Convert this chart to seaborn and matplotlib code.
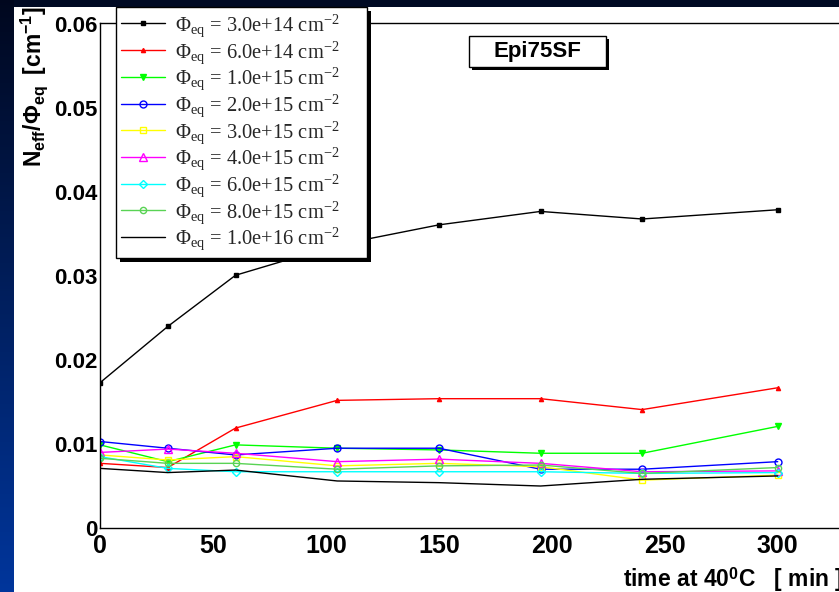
import numpy as np
import pandas as pd
import matplotlib
matplotlib.use("Agg")
import matplotlib.pyplot as plt
import seaborn as sns
from matplotlib.patches import Rectangle
from matplotlib.ticker import MultipleLocator, FixedLocator, FixedFormatter

# ---------------- data ----------------
times = [0, 30, 60, 105, 150, 195, 240, 300]
fluence_labels = ["3.0e+14", "6.0e+14", "1.0e+15", "2.0e+15", "3.0e+15",
                  "4.0e+15", "6.0e+15", "8.0e+15", "1.0e+16"]
neff_3e14 = [0.0173, 0.0240, 0.0301, 0.0337, 0.0361, 0.0377, 0.0368, 0.0379]
neff_6e14 = [0.0077, 0.0072, 0.0119, 0.0152, 0.0154, 0.0154, 0.0141, 0.0167]
neff_1e15 = [0.0099, 0.0079, 0.0099, 0.0095, 0.0093, 0.0089, 0.0089, 0.0121]
neff_2e15 = [0.0103, 0.0095, 0.0087, 0.0095, 0.0095, 0.0070, 0.0070, 0.0079]
neff_3e15 = [0.0087, 0.0081, 0.0085, 0.0074, 0.0077, 0.0073, 0.0057, 0.0063]
neff_4e15 = [0.0090, 0.0094, 0.0089, 0.0079, 0.0082, 0.0077, 0.0067, 0.0068]
neff_6e15 = [0.0085, 0.0071, 0.0067, 0.0067, 0.0067, 0.0067, 0.0065, 0.0066]
neff_8e15 = [0.0083, 0.0077, 0.0077, 0.0070, 0.0074, 0.0075, 0.0065, 0.0072]
neff_1e16 = [0.0071, 0.0066, 0.0069, 0.0056, 0.0054, 0.0050, 0.0058, 0.0062]
series = [neff_3e14, neff_6e14, neff_1e15, neff_2e15, neff_3e15,
          neff_4e15, neff_6e15, neff_8e15, neff_1e16]

y_ticks = [0, 0.01, 0.02, 0.03, 0.04, 0.05, 0.06]
y_ticklabels = ["0", "0.01", "0.02", "0.03", "0.04", "0.05", "0.06"]
x_ticks = [0, 50, 100, 150, 200, 250, 300]
x_ticklabels = ["0", "50", "100", "150", "200", "250", "300"]

# ---------------- styles ----------------
colors = ["#000000", "#ff0000", "#00ff00", "#0000ff", "#ffff00",
          "#ff00ff", "#00ffff", "#59d354", "#000000"]
markers = ["s", "^", "v", "o", "s", "^", "D", "o", None]
filled = [True, True, True, False, False, False, False, False, False]
msizes = [3.0, 3.0, 4.5, 5.0, 4.5, 5.5, 4.0, 4.5, 0]

sns.set_theme(style="white")
plt.rcParams["font.family"] = ["Liberation Sans", "DejaVu Sans"]
plt.rcParams["mathtext.fontset"] = "custom"
plt.rcParams["mathtext.rm"] = "Liberation Serif"
plt.rcParams["mathtext.it"] = "Liberation Serif:italic"
plt.rcParams["mathtext.bf"] = "Liberation Sans:bold"

W, H = 839, 592
fig = plt.figure(figsize=(W / 100, H / 100), dpi=100)
fig.patch.set_facecolor("white")


def fx(px):
    return px / W


def fy(py):
    return 1 - py / H


# slide background strips (top and left)
fig.add_artist(Rectangle((0, fy(7)), 1, 7 / H, transform=fig.transFigure,
                         facecolor="#000a24", edgecolor="none", zorder=-5))
bg = fig.add_axes([0, 0, fx(14), 1])
grad = np.linspace(0, 1, 256).reshape(-1, 1)
top_c = np.array([0.0, 0.03, 0.12])
bot_c = np.array([0.0, 0.21, 0.61])
img = (top_c[None, None, :] * (1 - grad[:, :, None]) + bot_c[None, None, :] * grad[:, :, None])
bg.imshow(img, aspect="auto", extent=[0, 1, 0, 1], origin="upper")
bg.set_axis_off()

x_max = 335
px_per_unit = 2.259
ax = fig.add_axes([fx(100), fy(528), x_max * px_per_unit / W, (528 - 22.5) / H])
ax.set_facecolor("white")

for vals, lab, c, m, f, ms in zip(series, fluence_labels, colors, markers, filled, msizes):
    df = pd.DataFrame({"time": times, "neff": vals})
    label = "Φ$_{\\mathrm{eq}}$ = " + lab + " cm$^{-2}$"
    kw = dict(color=c, linewidth=1.0, label=label)
    if m is not None:
        kw.update(marker=m, markersize=ms, markeredgecolor=c,
                  markerfacecolor=(c if f else "none"), markeredgewidth=1.0)
    sns.lineplot(data=df, x="time", y="neff", ax=ax, legend=False, **kw)

ax.set_xlim(0, x_max)
ax.set_ylim(0, 0.0602)
ax.set_xlabel("")
ax.set_ylabel("")

ax.xaxis.set_major_locator(FixedLocator(x_ticks))
ax.xaxis.set_major_formatter(FixedFormatter(x_ticklabels))
ax.xaxis.set_minor_locator(MultipleLocator(10))
ax.yaxis.set_major_locator(FixedLocator(y_ticks))
ax.yaxis.set_major_formatter(FixedFormatter(y_ticklabels))
ax.yaxis.set_minor_locator(MultipleLocator(0.002))

ax.tick_params(axis="x", which="major", direction="in", length=10.8, width=1,
               color="black", pad=4, labelsize=18, labelcolor="black")
ax.tick_params(axis="x", which="minor", direction="in", length=5.4, width=1, color="black")
ax.tick_params(axis="y", which="major", direction="in", length=17, width=1,
               color="black", pad=2, labelsize=16, labelcolor="black")
ax.tick_params(axis="y", which="minor", direction="in", length=8.6, width=1, color="black")
for t in ax.get_xticklabels() + ax.get_yticklabels():
    t.set_fontweight("bold")

for s in ["left", "bottom", "top", "right"]:
    ax.spines[s].set_color("black")
    ax.spines[s].set_linewidth(1.0)

# axis titles
fig.text(fx(34), fy(6), r"$\mathbf{N_{eff}/\Phi_{eq}\ \ [cm^{-1}]}$", rotation=90,
         ha="center", va="top", fontsize=16.5, color="black")
fig.text(fx(623), fy(580), r"time at 40$^{\mathbf{0}}$C   [ min ]", ha="left", va="center",
         fontsize=16.5, fontweight="bold", color="black")

# legend
leg = ax.legend(loc="upper left",
                bbox_to_anchor=(fx(116), fy(262), (367 - 116) / W, (262 - 7) / H),
                bbox_transform=fig.transFigure, mode="expand",
                borderaxespad=0, frameon=True, fancybox=False, framealpha=1,
                edgecolor="black", prop={"family": "Liberation Serif", "size": 14.8},
                handlelength=2.15, handletextpad=0.45, labelspacing=0.0, borderpad=0.25)
leg.get_frame().set_linewidth(1.0)
leg.set_zorder(10)

# title box
fig.add_artist(Rectangle((fx(472), fy(70)), (606 - 469) / W, (67 - 36) / H, transform=fig.transFigure,
                         facecolor="black", edgecolor="none", zorder=20))
fig.add_artist(Rectangle((fx(469), fy(67)), (606 - 469) / W, (67 - 36) / H, transform=fig.transFigure,
                         facecolor="white", edgecolor="black", linewidth=1.0, zorder=21))
fig.text(fx(537.5), fy(52), "Epi75SF", ha="center", va="center", fontsize=16,
         fontweight="bold", color="black", zorder=22)

# legend shadow (drawn inside the axes, below the legend)
fig.canvas.draw()
bb = leg.get_window_extent().transformed(fig.transFigure.inverted())
ax.add_artist(Rectangle((bb.x0 + 4 / W, bb.y0 - 4 / H), bb.width, bb.height,
                        transform=fig.transFigure, facecolor="black", edgecolor="none",
                        zorder=9, clip_on=False))

fig.savefig("out.png", dpi=100)
